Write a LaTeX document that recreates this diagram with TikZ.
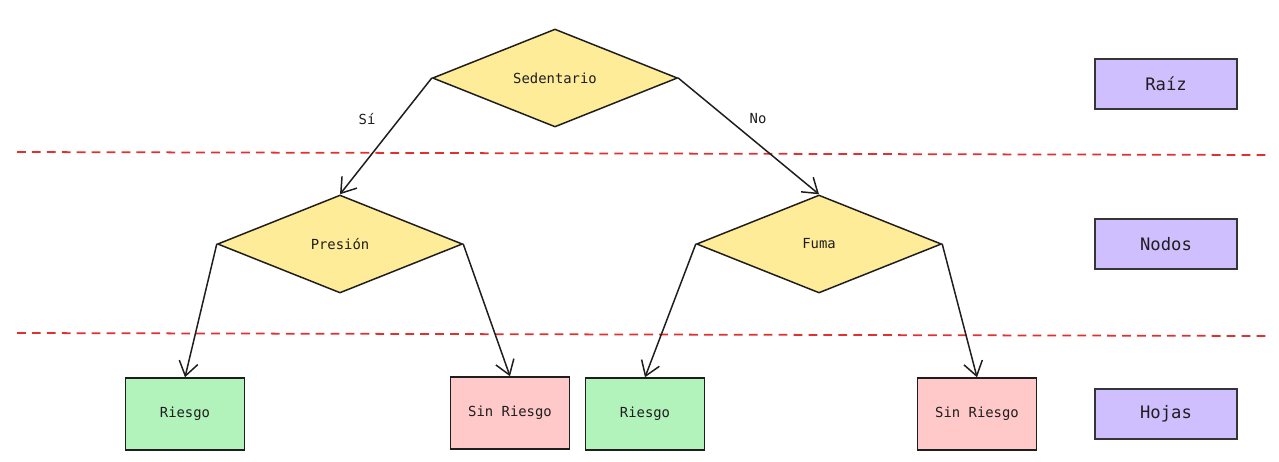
\documentclass[tikz,border=0pt]{standalone}
\usepackage{fontspec}
\setmonofont{DejaVu Sans Mono}
\usepackage{tikz}
\usetikzlibrary{shapes.geometric,arrows.meta,positioning}
\usepackage{xcolor}
\definecolor{decfill}{HTML}{FFEC99}
\definecolor{yesfill}{HTML}{B2F2BB}
\definecolor{nofill}{HTML}{FFC9C9}
\definecolor{tagfill}{HTML}{D0BFFF}
\definecolor{ink}{HTML}{1E1E1E}
\definecolor{cut}{HTML}{E03131}

\begin{document}
\begin{tikzpicture}[x=0.02cm, y=-0.02cm,
    every node/.style={font=\ttfamily\fontsize{7.9}{9}\selectfont, text=ink},
    decision/.style={diamond, draw=ink, fill=decfill, line width=0.85pt, inner sep=0pt,
        aspect=2.5, minimum width=4.9cm, minimum height=1.96cm},
    leaf/.style={rectangle, draw=ink, line width=0.85pt, minimum width=2.38cm, minimum height=1.44cm},
    tag/.style={rectangle, draw=ink!90, fill=tagfill, line width=0.9pt, minimum width=2.84cm,
        minimum height=1cm, font=\ttfamily\fontsize{9.8}{11}\selectfont},
    branch/.style={draw=ink, line width=0.85pt, -{Straight Barb[length=2.8mm,width=3.8mm]}},
    level/.style={draw=cut, line width=1pt, dash pattern=on 5pt off 3.5pt}]
    \useasboundingbox (0,0) rectangle (1279,461);
    % separators
    \draw[level] (17,152) -- (1268,155);
    \draw[level] (17,333) -- (1268,336);
    % tree
    \node[decision] (sed) at (555,78) {Sedentario};
    \node[decision] (pres) at (340,244) {Presión};
    \node[decision] (fuma) at (819,244) {Fuma};
    \node[leaf, fill=yesfill] (r1) at (185,414) {Riesgo};
    \node[leaf, fill=nofill] (s1) at (510,413) {Sin Riesgo};
    \node[leaf, fill=yesfill] (r2) at (645,414) {Riesgo};
    \node[leaf, fill=nofill] (s2) at (977,414) {Sin Riesgo};
    \draw[branch] (sed.west) -- (pres.north);
    \draw[branch] (sed.east) -- (fuma.north);
    \draw[branch] (pres.west) -- (r1.north);
    \draw[branch] (pres.east) -- (s1.north);
    \draw[branch] (fuma.west) -- (r2.north);
    \draw[branch] (fuma.east) -- (s2.north);
    \node (si) at (367,119) {Sí};
    \node (no) at (758,119) {No};
    % legend
    \node[tag] (raiz) at (1166,84) {Raíz};
    \node[tag] (nodos) at (1166,244) {Nodos};
    \node[tag] (hojas) at (1166,414) {Hojas};
\end{tikzpicture}
\end{document}
